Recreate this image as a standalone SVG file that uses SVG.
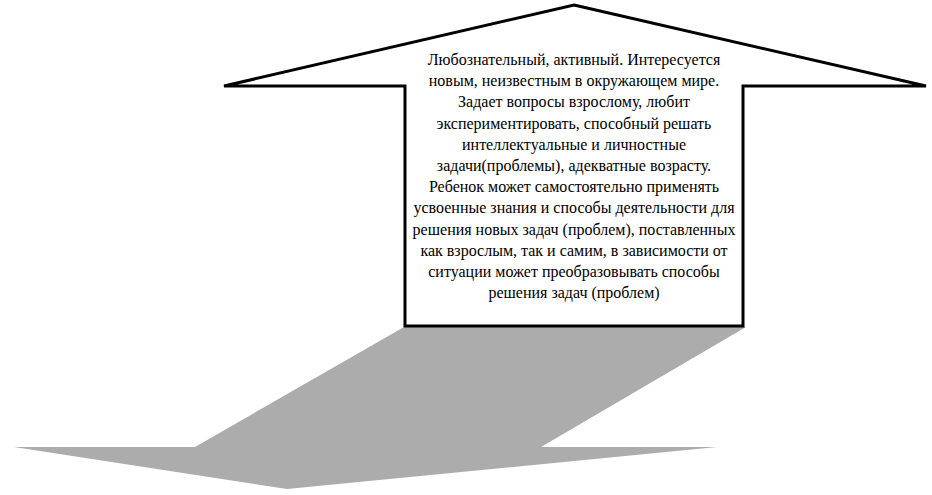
<svg xmlns="http://www.w3.org/2000/svg" width="932" height="495" viewBox="0 0 932 495">
<style>
.t{font-family:"Liberation Serif","Times New Roman",serif;font-size:16px;fill:#000;text-anchor:middle}
</style>
<rect width="932" height="495" fill="#fff"/>
<g id="shadow">
<polygon points="404,327 746,327 541,447 717,447 287,489 14,447 195,447" fill="#acacac"/>
</g>
<g id="arrow">
<polygon points="574,5 926,86 743,86 743,326 405,326 405,86 224,86" fill="#fff" stroke="#000" stroke-width="3" stroke-linejoin="miter"/>
<text class="t" x="574" y="65">Любознательный, активный. Интересуется</text>
<text class="t" x="574" y="86.2">новым, неизвестным в окружающем мире.</text>
<text class="t" x="574" y="107.4">Задает вопросы взрослому, любит</text>
<text class="t" x="574" y="128.6">экспериментировать, способный решать</text>
<text class="t" x="574" y="149.8">интеллектуальные и личностные</text>
<text class="t" x="574" y="171">задачи(проблемы), адекватные возрасту.</text>
<text class="t" x="574" y="192.2">Ребенок может самостоятельно применять</text>
<text class="t" x="574" y="213.4">усвоенные знания и способы деятельности для</text>
<text class="t" x="574" y="234.6">решения новых задач (проблем), поставленных</text>
<text class="t" x="574" y="255.8">как взрослым, так и самим, в зависимости от</text>
<text class="t" x="574" y="277">ситуации может преобразовывать способы</text>
<text class="t" x="574" y="298.2">решения задач (проблем)</text>
</g>
</svg>
